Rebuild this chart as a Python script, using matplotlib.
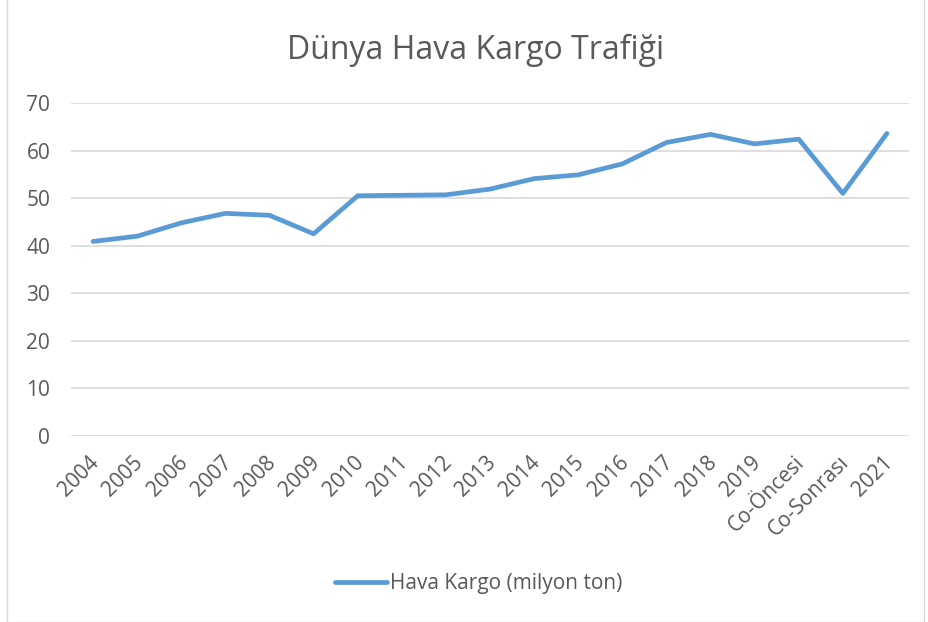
import matplotlib
matplotlib.use("Agg")
import matplotlib.pyplot as plt
import matplotlib.transforms as mtransforms
from matplotlib.patches import Rectangle

categories = ["2004", "2005", "2006", "2007", "2008", "2009", "2010", "2011", "2012",
              "2013", "2014", "2015", "2016", "2017", "2018", "2019", "Co-Öncesi",
              "Co-Sonrası", "2021"]
values = [40.9, 42.0, 44.8, 46.8, 46.4, 42.5, 50.5, 50.6, 50.7, 51.9, 54.1, 54.9,
          57.2, 61.7, 63.4, 61.4, 62.4, 51.0, 63.6]
series_name = "Hava Kargo (milyon ton)"
title = "Dünya Hava Kargo Trafiği"
yticks = [0, 10, 20, 30, 40, 50, 60, 70]

plt.rcParams['font.family'] = ['Open Sans', 'DejaVu Sans']
text_color = "#595959"
fs = 15

fig = plt.figure(figsize=(9.29, 6.22), dpi=100)
ax = fig.add_axes([71/929, 1-436/622, (909-71)/929, (436-103)/622])

x = list(range(len(categories)))
line, = ax.plot(x, values, color="#5b9bd5", linewidth=3.4, solid_capstyle="round",
                solid_joinstyle="round", label=series_name, zorder=3)

ax.set_xlim(-0.5, len(categories) - 0.5)
ax.set_ylim(0, 70)
ax.set_yticks(yticks)
ax.set_yticklabels([str(v) for v in yticks], fontsize=fs, color=text_color)
ax.set_xticks(x)
ax.set_xticklabels(categories, rotation=45, ha="right", va="center", rotation_mode="anchor",
                   fontsize=fs, color=text_color)
ax.tick_params(axis="y", length=0, pad=15)
ax.tick_params(axis="x", length=0, pad=16)
offset = mtransforms.ScaledTranslation(0.03, -0.01, fig.dpi_scale_trans)
for lbl in ax.get_xticklabels():
    lbl.set_transform(lbl.get_transform() + offset)
ax.grid(axis="y", color="#d9d9d9", linewidth=1.2)
for s in ax.spines.values():
    s.set_visible(False)
ax.set_axisbelow(True)

fig.text(475.5/929, 1-50/622, title, ha="center", va="center", fontsize=23, color=text_color)

fig.legend(handles=[line], loc="center", bbox_to_anchor=(478.5/929, 1-584/622), frameon=False,
           fontsize=fs, labelcolor=text_color, handlelength=2.5, handletextpad=0.15)

fig.patches.append(Rectangle((7/929, 0.0), (924-7)/929, 1.2, transform=fig.transFigure,
                             fill=False, edgecolor="#d9d9d9", linewidth=1.0))

fig.savefig("out.png", dpi=100, facecolor="white")
